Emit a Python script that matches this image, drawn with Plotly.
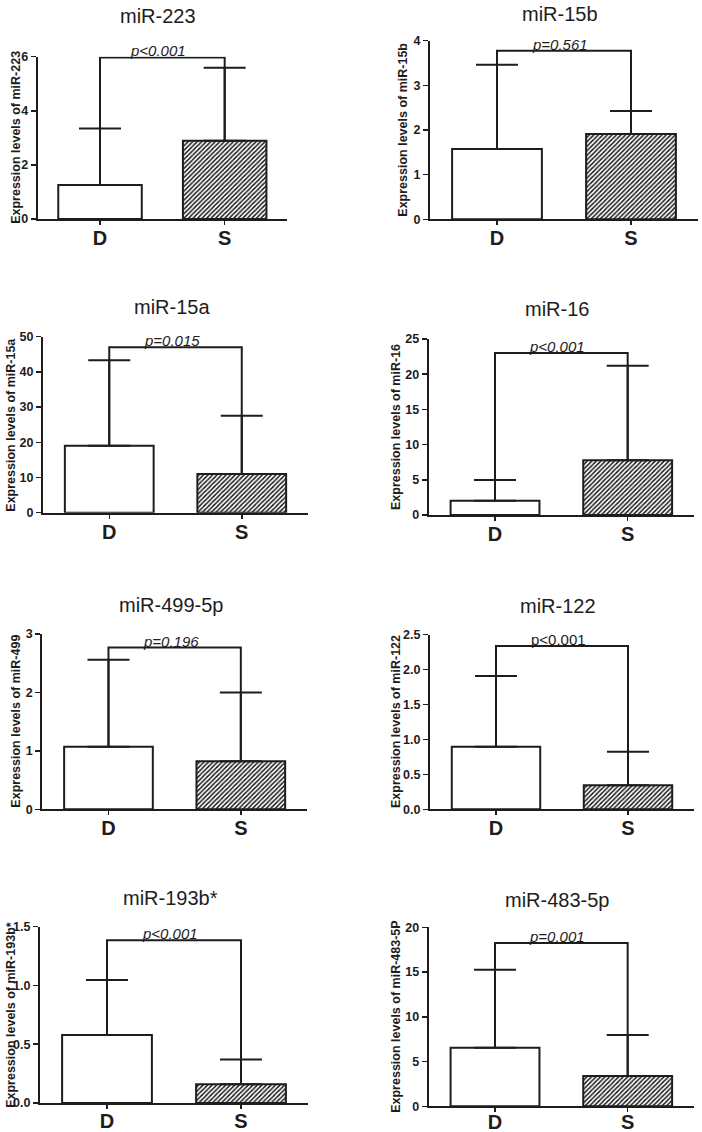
import plotly.graph_objects as go

# ---------------- data ----------------
titles = ["miR-223", "miR-15b", "miR-15a", "miR-16",
          "miR-499-5p", "miR-122", "miR-193b*", "miR-483-5p"]
ytitles = ["Expression levels of miR-223", "Expression levels of miR-15b",
           "Expression levels of miR-15a", "Expression levels of miR-16",
           "Expression levels of miR-499", "Expression levels of miR-122",
           "Expression levels of miR-193b*", "Expression levels of miR-483-5P"]
groups = ["D", "S"]
mean_D = [1.26, 1.575, 19.0, 2.04, 1.07, 0.897, 0.578, 6.55]
mean_S = [2.89, 1.91, 11.0, 7.77, 0.821, 0.343, 0.159, 3.39]
err_top_D = [3.35, 3.46, 43.3, 4.97, 2.56, 1.908, 1.046, 15.27]
err_top_S = [5.59, 2.425, 27.56, 21.2, 1.997, 0.825, 0.371, 7.97]
bracket = [5.975, 3.776, 46.97, 23.0, 2.767, 2.338, 1.384, 18.25]
p_text = ["p<0.001", "p=0.561", "p=0.015", "p<0.001",
          "p=0.196", "p<0.001", "p<0.001", "p=0.001"]
p_italic = [True, True, True, True, True, False, True, True]
y_max = [6, 4, 50, 25, 3, 2.5, 1.5, 20]
y_dtick = [2, 1, 10, 5, 1, 0.5, 0.5, 5]
y_fmt = ["d", "d", "d", "d", "d", ".1f", ".1f", "d"]

# ---------------- layout geometry (page pixels) ----------------
W, H = 702, 1132
# left, right, top, bottom of each plot area
geom = [(37.7, 287, 56.7, 219), (430, 698, 40.7, 219.3),
        (43, 308, 336.7, 512.7), (428.7, 694, 339, 515),
        (42.3, 307, 634, 809.3), (430, 694, 634.7, 809.3),
        (40, 308, 926.7, 1103), (428.7, 694, 927.3, 1106.3)]
title_y = [16, 14, 306.7, 309, 605, 606, 898, 900]
ytitle_x = [16, 402.7, 11, 396, 16, 396, 11, 396]
xlabel_standoff = [-4, -4, -4, -4, -4, -4, -5, -7]


def px_x(p):
    return p / W


def px_y(p):
    return 1 - p / H


INK = "#1e1c1d"
FONT = "Liberation Sans, Arial, sans-serif"

fig = go.Figure()
annotations = []
layout_axes = {}

for i in range(8):
    n = i + 1
    xs = "x" if n == 1 else f"x{n}"
    ys = "y" if n == 1 else f"y{n}"
    left, right, top, bottom = geom[i]

    # D bar (white)
    fig.add_trace(go.Bar(
        x=[0], y=[mean_D[i]], width=0.67, xaxis=xs, yaxis=ys,
        marker=dict(color="white", line=dict(color=INK, width=2)),
        error_y=dict(type="data", symmetric=False,
                     array=[err_top_D[i] - mean_D[i]], arrayminus=[0],
                     color=INK, thickness=2, width=21),
        showlegend=False, hoverinfo="skip"))
    # S bar (hatched)
    fig.add_trace(go.Bar(
        x=[1], y=[mean_S[i]], width=0.67, xaxis=xs, yaxis=ys,
        marker=dict(color="white", line=dict(color=INK, width=2),
                    pattern=dict(shape="/", size=3.2, solidity=0.45,
                                 fgcolor="#111111", bgcolor="white")),
        error_y=dict(type="data", symmetric=False,
                     array=[err_top_S[i] - mean_S[i]], arrayminus=[0],
                     color=INK, thickness=2, width=21),
        showlegend=False, hoverinfo="skip"))
    # significance bracket
    fig.add_trace(go.Scatter(
        x=[0, 0, 1, 1], y=[mean_D[i], bracket[i], bracket[i], mean_S[i]],
        xaxis=xs, yaxis=ys, mode="lines",
        line=dict(color=INK, width=2), showlegend=False, hoverinfo="skip"))

    xkey = "xaxis" if n == 1 else f"xaxis{n}"
    ykey = "yaxis" if n == 1 else f"yaxis{n}"
    layout_axes[xkey] = dict(
        domain=[px_x(left), min(px_x(right), 1)], anchor=ys,
        range=[-0.5, 1.5],
        tickmode="array", tickvals=[0, 1], ticktext=groups,
        showline=True, linecolor=INK, linewidth=2, showgrid=False,
        zeroline=False, ticks="outside", ticklen=4, tickwidth=1.5,
        tickcolor=INK, automargin=False, fixedrange=True,
        ticklabelstandoff=xlabel_standoff[i],
        tickfont=dict(family=FONT, size=20, color=INK, weight="bold"))
    layout_axes[ykey] = dict(
        domain=[px_y(bottom), px_y(top)], anchor=xs,
        range=[0, y_max[i]], tick0=0, dtick=y_dtick[i], tickformat=y_fmt[i],
        showline=True, linecolor=INK, linewidth=2, showgrid=False,
        zeroline=False, ticks="outside", ticklen=5, tickwidth=1.5,
        tickcolor=INK, automargin=False, fixedrange=True,
        tickfont=dict(family=FONT, size=12.5, color=INK, weight="bold"))

    # panel title
    annotations.append(dict(
        text=titles[i], xref="paper", yref="paper",
        x=px_x((left + right) / 2 - 4), y=px_y(title_y[i]),
        xanchor="center", yanchor="middle", showarrow=False,
        font=dict(family=FONT, size=20, color=INK)))
    # y-axis title
    annotations.append(dict(
        text=ytitles[i], xref="paper", yref="paper",
        x=px_x(ytitle_x[i]), y=px_y((top + bottom) / 2),
        xanchor="center", yanchor="middle", textangle=-90, showarrow=False,
        font=dict(family=FONT, size=12.5, color=INK, weight="bold")))
    # p-value
    annotations.append(dict(
        text=p_text[i], xref=xs, yref=ys, x=0.5, y=bracket[i],
        xanchor="center", yanchor="bottom", xshift=-4, yshift=-4,
        showarrow=False,
        font=dict(family=FONT, size=15, color=INK,
                  style="italic" if p_italic[i] else "normal")))

fig.update_layout(
    width=W, height=H, margin=dict(l=0, r=0, t=0, b=0, autoexpand=False),
    paper_bgcolor="white", plot_bgcolor="white", template="none",
    annotations=annotations, bargap=0, **layout_axes)

# remove the page's default 8px body margin so the figure fills the window
fig.write_html("out.html",
               config={"displayModeBar": False, "staticPlot": True},
               post_script="document.body.style.margin='0';"
                           "document.body.style.overflow='hidden';")
